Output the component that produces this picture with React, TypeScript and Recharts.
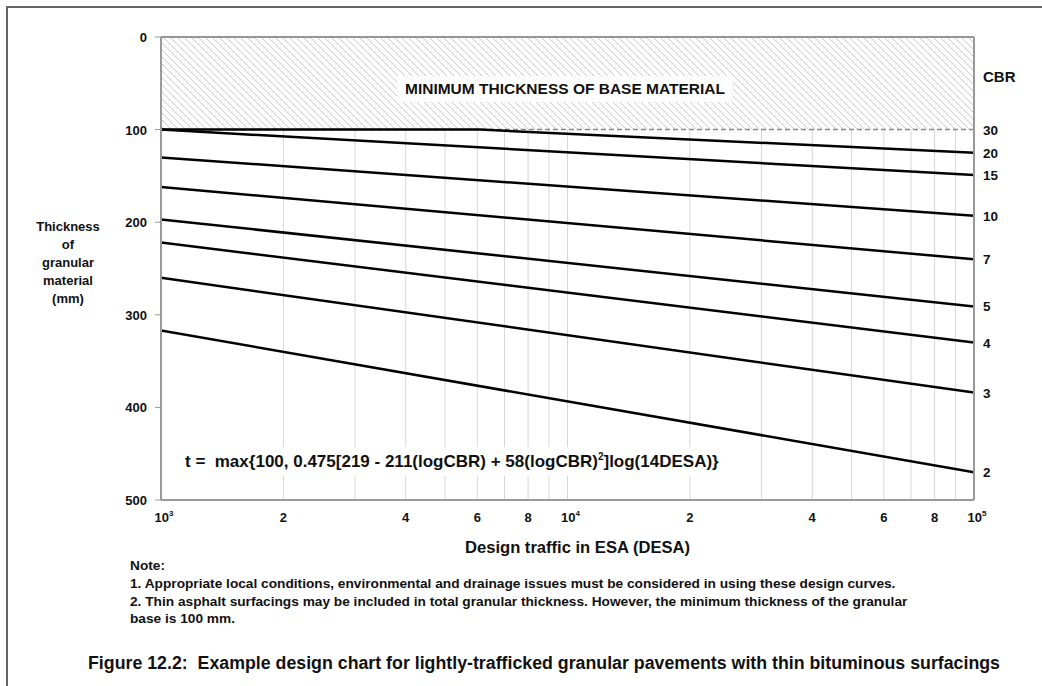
import { LineChart, Line, XAxis, YAxis, CartesianGrid, ReferenceArea, ReferenceLine } from 'recharts';

// design traffic (ESA) at the chart edges
const desaEnds = [1000, 100000];

// granular thickness (mm) at 10^3 and 10^5 ESA
const cbr2 = [317, 470];
const cbr3 = [260, 384];
const cbr4 = [222, 330];
const cbr5 = [197, 291];
const cbr7 = [162, 240];
const cbr10 = [130, 193];
const cbr15 = [100, 149];
// CBR 20 sits on the 100 mm minimum until about 6x10^3
const cbr20Desa = [1000, 6100, 100000];
const cbr20 = [100, 100, 125];
const cbr30 = [100, 100];

const xGridTicks = [
  1000, 2000, 3000, 4000, 5000, 6000, 7000, 8000, 9000,
  10000, 20000, 30000, 40000, 50000, 60000, 70000, 80000, 90000, 100000,
];
const xLabelled = [1000, 2000, 4000, 6000, 8000, 10000, 20000, 40000, 60000, 80000, 100000];
const yTicks = [0, 25, 50, 75, 100, 125, 150, 175, 200, 225, 250, 275, 300, 325, 350, 375, 400, 425, 450, 475, 500];

const toPoints = (xs: number[], ys: number[]) => xs.map((desa, i) => ({ desa, t: ys[i] }));

const curves = [
  { cbr: '30', points: toPoints(desaEnds, cbr30), dashed: true },
  { cbr: '20', points: toPoints(cbr20Desa, cbr20) },
  { cbr: '15', points: toPoints(desaEnds, cbr15) },
  { cbr: '10', points: toPoints(desaEnds, cbr10) },
  { cbr: '7', points: toPoints(desaEnds, cbr7) },
  { cbr: '5', points: toPoints(desaEnds, cbr5) },
  { cbr: '4', points: toPoints(desaEnds, cbr4) },
  { cbr: '3', points: toPoints(desaEnds, cbr3) },
  { cbr: '2', points: toPoints(desaEnds, cbr2) },
];

const FONT = '"Liberation Sans", Arial, sans-serif';

function XTick(props: any) {
  const { x, y, payload } = props;
  const v = payload.value;
  if (!xLabelled.includes(v)) return <g />;
  const exp = Math.log10(v);
  if (Math.abs(exp - Math.round(exp)) < 1e-9) {
    return (
      <text x={x + 3} y={y + 14} textAnchor="middle" fontFamily={FONT} fontWeight="bold" fontSize={13} fill="#111">
        <tspan>10</tspan>
        <tspan dy={-6} fontSize={8}>{Math.round(exp)}</tspan>
      </text>
    );
  }
  const lead = Math.round(v / Math.pow(10, Math.floor(exp)));
  return (
    <text x={x} y={y + 14} textAnchor="middle" fontFamily={FONT} fontWeight="bold" fontSize={13} fill="#111">
      {lead}
    </text>
  );
}

function YTick(props: any) {
  const { x, y, payload } = props;
  if (payload.value % 100 !== 0) return <g />;
  return (
    <g>
      <line x1={x + 8} x2={x + 14} y1={y} y2={y} stroke="#999" strokeWidth={1} />
      <text x={x} y={y} dy={5} textAnchor="end" fontFamily={FONT} fontWeight="bold" fontSize={13} fill="#111">
        {payload.value}
      </text>
    </g>
  );
}

const endLabel = (cbr: string, last: number) => (p: any) => {
  if (p.index !== last) return <g />;
  return (
    <text x={p.x + 9} y={p.y} dy={5} textAnchor="start" fontFamily={FONT} fontWeight="bold" fontSize={13.5} fill="#111">
      {cbr}
    </text>
  );
};

const boldText = { fontFamily: FONT, fontWeight: 'bold' as const, color: '#111', whiteSpace: 'nowrap' as const };

export default function App() {
  return (
    <div style={{ position: 'absolute', left: 0, top: 0, width: 1042, height: 686, background: '#fff', overflow: 'hidden' }}>
      <div style={{ position: 'absolute', left: 0, top: 0 }}>
        <LineChart width={1042} height={560} margin={{ top: 37, right: 18, bottom: 30, left: 101 }}>
          <defs>
            <pattern id="hatch" patternUnits="userSpaceOnUse" width={7} height={7}>
              <rect width={7} height={7} fill="#fff" />
              <path d="M0,0 L7,7 M-1,6 L1,8 M6,-1 L8,1" stroke="#cacaca" strokeWidth={1} />
            </pattern>
          </defs>
          <CartesianGrid stroke="#d6d6d6" strokeWidth={1} />
          <XAxis
            dataKey="desa"
            type="number"
            scale="log"
            domain={[1000, 100000]}
            ticks={xGridTicks}
            interval={0}
            allowDataOverflow
            axisLine={{ stroke: '#999', strokeWidth: 2 }}
            tickLine={false}
            tick={<XTick />}
            height={30}
          />
          <YAxis
            yAxisId="left"
            type="number"
            domain={[0, 500]}
            reversed
            ticks={yTicks}
            interval={0}
            axisLine={{ stroke: '#999', strokeWidth: 2 }}
            tickLine={false}
            tickSize={6}
            tickMargin={8}
            tick={<YTick />}
            width={60}
          />
          <YAxis
            yAxisId="right"
            orientation="right"
            type="number"
            domain={[0, 500]}
            reversed
            axisLine={{ stroke: '#999', strokeWidth: 2 }}
            tickLine={false}
            tick={false}
            width={50}
          />
          <ReferenceArea
            yAxisId="left"
            x1={1000}
            x2={100000}
            y1={0}
            y2={100}
            fill="url(#hatch)"
            fillOpacity={1}
            stroke="none"
            ifOverflow="hidden"
          />
          <ReferenceLine yAxisId="left" y={0} stroke="#777" strokeWidth={1.5} />
          {curves.map((c) => (
            <Line
              key={c.cbr}
              yAxisId="left"
              data={c.points}
              dataKey="t"
              type="linear"
              stroke={c.dashed ? '#888' : '#000'}
              strokeWidth={c.dashed ? 1.5 : 2.5}
              strokeDasharray={c.dashed ? '5 3' : undefined}
              dot={false}
              label={endLabel(c.cbr, c.points.length - 1)}
              isAnimationActive={false}
            />
          ))}
        </LineChart>
      </div>

      <div style={{ ...boldText, position: 'absolute', left: 397, top: 76, width: 336, height: 26, background: '#fff', fontSize: 15.5, lineHeight: '26px', textAlign: 'center' }}>
        MINIMUM THICKNESS OF BASE MATERIAL
      </div>
      <div style={{ ...boldText, position: 'absolute', left: 983, top: 68, fontSize: 15 }}>CBR</div>

      <div style={{ ...boldText, position: 'absolute', left: 172, top: 447, width: 576, height: 29, background: '#fff', fontSize: 17, lineHeight: '29px', paddingLeft: 13, boxSizing: 'border-box' }}>
        t =&nbsp; max{'{'}100, 0.475[219 - 211(logCBR) + 58(logCBR)<sup style={{ fontSize: 10, lineHeight: 0 }}>2</sup>]log(14DESA){'}'}
      </div>

      <div style={{ ...boldText, position: 'absolute', left: 18, top: 218, width: 100, fontSize: 13, lineHeight: '18px', textAlign: 'center' }}>
        Thickness<br />of<br />granular<br />material<br />(mm)
      </div>

      <svg style={{ position: 'absolute', left: 0, top: 530 }} width={1042} height={156}>
        <text x={465} y={23} textLength={225} lengthAdjust="spacingAndGlyphs" fontFamily={FONT} fontWeight="bold" fontSize={16} fill="#111">
          Design traffic in ESA (DESA)
        </text>
        <g fontFamily={FONT} fontWeight="bold" fontSize={13.7} fill="#111">
          <text x={130} y={40}>Note:</text>
          <text x={130} y={58}>1. Appropriate local conditions, environmental and drainage issues must be considered in using these design curves.</text>
          <text x={130} y={76}>2. Thin asphalt surfacings may be included in total granular thickness. However, the minimum thickness of the granular</text>
          <text x={130} y={93}>base is 100 mm.</text>
        </g>
        <text x={88} y={139} textLength={912} lengthAdjust="spacingAndGlyphs" fontFamily={FONT} fontWeight="bold" fontSize={17.5} fill="#111">
          {'Figure 12.2:\u00a0 Example design chart for lightly-trafficked granular pavements with thin bituminous surfacings'}
        </text>
      </svg>

      <div style={{ position: 'absolute', left: 6, top: 6, width: 1060, height: 700, border: '2px solid #666', pointerEvents: 'none', zIndex: 5 }} />
    </div>
  );
}
